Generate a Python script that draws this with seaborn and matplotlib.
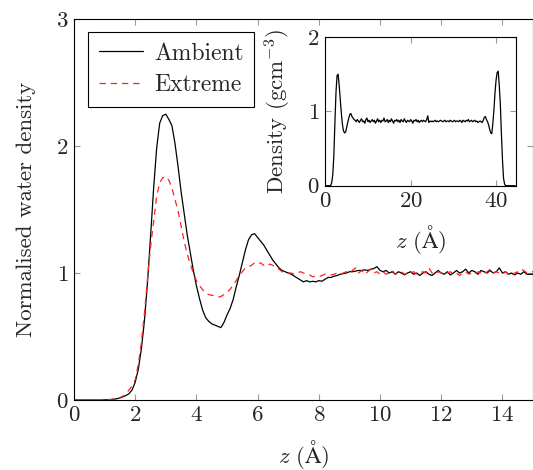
import numpy as np
import pandas as pd
import matplotlib
matplotlib.use("Agg")
import matplotlib.pyplot as plt
import seaborn as sns

# ---------------- data ----------------
# main plot: normalised water density, z = 0.0 .. 15.0 step 0.1
ambient = [
    0, 0, 0, 0, 0, 0, 0, 0, 0, 0,
    0.001, 0.002, 0.003, 0.006, 0.010, 0.016, 0.025, 0.036, 0.050, 0.080,
    0.14, 0.24, 0.40, 0.62, 0.92, 1.28, 1.66, 1.98, 2.18, 2.24,
    2.25, 2.21, 2.16, 2.02, 1.84, 1.64, 1.47, 1.30, 1.16, 1.02,
    0.90, 0.80, 0.71, 0.65, 0.62, 0.60, 0.59, 0.58, 0.57, 0.61,
    0.67, 0.72, 0.79, 0.89, 0.98, 1.08, 1.18, 1.26, 1.30, 1.31,
    1.28, 1.25, 1.22, 1.18, 1.14, 1.10, 1.07, 1.04, 1.02, 1.01,
    1.00, 0.99, 0.975, 0.96, 0.945, 0.93, 0.94, 0.93, 0.935, 0.93,
    0.94, 0.935, 0.95, 0.965, 0.965, 0.975, 0.98, 0.99, 0.995, 1.00,
    1.01, 1.01, 1.015, 1.02, 1.02, 1.025, 1.02, 1.03, 1.035, 1.05,
    1.02, 1.01, 1.02, 1.00, 1.01, 0.99, 1.01, 1.00, 0.985, 1.00,
    1.01, 0.99, 1.00, 0.98, 1.00, 1.01, 0.99, 0.98, 1.00, 1.02,
    1.00, 0.99, 1.01, 0.985, 1.00, 1.02, 1.00, 1.01, 1.03, 1.00,
    1.02, 1.01, 0.99, 1.02, 1.01, 1.00, 1.02, 1.00, 1.01, 1.04,
    1.00, 1.01, 0.99, 1.00, 0.985, 1.00, 0.99, 1.01, 0.99, 0.99,
    0.99,
]
extreme = [
    0, 0, 0, 0, 0, 0, 0, 0, 0, 0,
    0.002, 0.003, 0.005, 0.008, 0.012, 0.02, 0.03, 0.05, 0.08, 0.11,
    0.16, 0.28, 0.45, 0.68, 0.95, 1.20, 1.40, 1.60, 1.71, 1.75,
    1.76, 1.73, 1.67, 1.58, 1.49, 1.37, 1.25, 1.15, 1.07, 1.00,
    0.94, 0.90, 0.87, 0.84, 0.83, 0.825, 0.82, 0.81, 0.815, 0.83,
    0.85, 0.87, 0.905, 0.94, 0.98, 1.01, 1.04, 1.05, 1.06, 1.08,
    1.07, 1.08, 1.06, 1.05, 1.07, 1.06, 1.04, 1.03, 1.01, 1.01,
    1.00, 1.00, 0.99, 1.00, 1.01, 1.00, 0.99, 0.985, 0.97, 0.975,
    0.97, 0.98, 0.99, 0.99, 0.985, 0.99, 1.00, 0.99, 1.00, 1.01,
    1.00, 1.02, 1.04, 1.00, 1.02, 0.99, 1.01, 1.03, 1.00, 1.01,
    0.99, 1.01, 0.99, 1.00, 1.02, 0.99, 1.00, 1.01, 0.99, 1.00,
    1.00, 1.01, 0.99, 1.00, 1.01, 1.00, 1.04, 1.00, 0.99, 1.01,
    1.00, 0.99, 1.00, 1.01, 0.99, 1.00, 0.98, 1.00, 1.01, 0.99,
    1.00, 0.99, 1.01, 1.00, 0.99, 1.01, 1.03, 1.00, 1.01, 1.00,
    0.99, 1.01, 0.99, 0.98, 1.00, 1.01, 1.03, 1.02, 1.00, 1.01,
    1.01,
]
z_main = np.round(np.arange(len(ambient)) * 0.1, 2)

# inset: density (g cm^-3), z = 0.0 .. 44.5 step 0.25
inset_density = [
    0, 0, 0, 0, 0, 0, 0.04, 0.15,
    0.40, 0.85, 1.25, 1.48, 1.50, 1.35, 1.16, 0.98,
    0.83, 0.74, 0.71, 0.72, 0.78, 0.85, 0.91, 0.96,
    0.97, 0.93, 0.91, 0.89,
    0.88, 0.86, 0.89, 0.87, 0.85, 0.88, 0.90, 0.86,
    0.87, 0.84, 0.89, 0.91, 0.86, 0.88, 0.85, 0.87,
    0.89, 0.86, 0.88, 0.84, 0.87, 0.90, 0.86, 0.88,
    0.85, 0.88, 0.87, 0.91, 0.86, 0.87, 0.89, 0.85,
    0.88, 0.86, 0.90, 0.87, 0.84, 0.88, 0.87, 0.89,
    0.86, 0.88, 0.85, 0.89, 0.87, 0.86, 0.90, 0.87,
    0.85, 0.88, 0.87, 0.86, 0.89, 0.87, 0.84, 0.88,
    0.87, 0.89, 0.86, 0.88, 0.85, 0.87, 0.88, 0.86,
    0.88, 0.87, 0.86, 0.89, 0.94, 0.85, 0.87, 0.86,
    0.87, 0.86, 0.87, 0.88, 0.86, 0.87, 0.86, 0.87,
    0.88, 0.87, 0.86, 0.87, 0.88, 0.86, 0.87, 0.87,
    0.86, 0.88, 0.87, 0.86, 0.87, 0.88, 0.86, 0.87,
    0.87, 0.86, 0.88, 0.87, 0.85, 0.88, 0.87, 0.86,
    0.88, 0.87, 0.89, 0.86, 0.87, 0.88, 0.86, 0.87,
    0.88, 0.86, 0.87, 0.85, 0.86, 0.87, 0.86, 0.85,
    0.88, 0.92, 0.93, 0.89, 0.86, 0.82, 0.76, 0.71,
    0.70, 0.84, 1.02, 1.25, 1.42, 1.52, 1.54, 1.35,
    1.10, 0.70, 0.35, 0.10, 0.02, 0, 0, 0,
    0, 0, 0, 0, 0, 0, 0,
]
z_inset = np.round(np.arange(len(inset_density)) * 0.25, 2)

main_xticks = [0, 2, 4, 6, 8, 10, 12, 14]
main_yticks = [0, 1, 2, 3]
inset_xticks = [0, 20, 40]
inset_yticks = [0, 1, 2]

df_main = pd.DataFrame({"z": z_main, "Ambient": ambient, "Extreme": extreme})
df_inset = pd.DataFrame({"z": z_inset, "density": inset_density})

# ---------------- style ----------------
sns.set_style("ticks")
plt.rcParams["font.family"] = ["cmr10", "DejaVu Serif"]
plt.rcParams["mathtext.fontset"] = "cm"
plt.rcParams["axes.formatter.use_mathtext"] = True
plt.rcParams["axes.unicode_minus"] = False
FS = 16.5

fig = plt.figure(figsize=(5.33, 4.70), dpi=100)
ax = fig.add_axes([74 / 533, 70 / 470, 459 / 533, 381 / 470])

sns.lineplot(data=df_main, x="z", y="Ambient", ax=ax, color="black",
             linewidth=0.9, label="Ambient", estimator=None, sort=False)
sns.lineplot(data=df_main, x="z", y="Extreme", ax=ax, color="#ff2020",
             linewidth=0.9, linestyle=(0, (5, 4)), label="Extreme",
             estimator=None, sort=False)

ax.set_xlim(0, 15)
ax.set_ylim(0, 3)
ax.set_xticks(main_xticks)
ax.set_yticks(main_yticks)
ax.set_xlabel(r"$z\ (\mathrm{\AA})$", fontsize=FS, labelpad=9)
ax.set_ylabel("Normalised water density", fontsize=FS, labelpad=14)


def style_axes(a):
    for s in a.spines.values():
        s.set_color("black")
        s.set_linewidth(0.8)
        s.set_visible(True)
    a.tick_params(direction="in", length=4.5, width=0.8, color="0.6",
                  top=True, right=True, labelsize=FS, pad=4)


style_axes(ax)

leg = ax.legend(loc="upper left", bbox_to_anchor=(14 / 459, 1 - 13 / 381),
                borderaxespad=0, fontsize=17, frameon=True, fancybox=False,
                framealpha=1, edgecolor="black", handlelength=1.9,
                handletextpad=0.45, borderpad=0.45, labelspacing=0.4)
leg.get_frame().set_linewidth(0.8)

# ---------------- inset ----------------
axin = fig.add_axes([325.3 / 533, (470 - 185.7) / 470, 190.4 / 533, 148.7 / 470])
axin.set_facecolor("white")
sns.lineplot(data=df_inset, x="z", y="density", ax=axin, color="black",
             linewidth=0.9, estimator=None, sort=False, legend=False)
axin.set_xlim(0, 44.6)
axin.set_ylim(0, 2)
axin.set_xticks(inset_xticks)
axin.set_yticks(inset_yticks)
axin.set_xlabel(r"$z\ (\mathrm{\AA})$", fontsize=FS, labelpad=9)
axin.set_ylabel(r"Density (gcm$^{-3}$)", fontsize=FS, labelpad=10)
style_axes(axin)

fig.savefig("out.png", dpi=100)
